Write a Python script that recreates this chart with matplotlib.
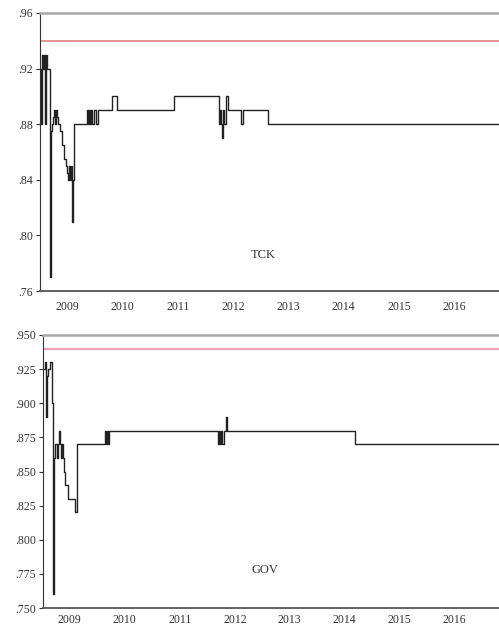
import matplotlib
matplotlib.use('Agg')
import matplotlib.pyplot as plt

# TCK series (decimal year, value) - step data
tck_dates = [2008.51, 2008.53, 2008.54, 2008.56, 2008.58, 2008.60, 2008.62, 2008.64,
             2008.69, 2008.71, 2008.73, 2008.75, 2008.76, 2008.78, 2008.80, 2008.82,
             2008.84, 2008.87, 2008.91, 2008.95, 2008.98, 2009.00, 2009.02, 2009.04,
             2009.06, 2009.07, 2009.09, 2009.11, 2009.13, 2009.36, 2009.38, 2009.40,
             2009.42, 2009.44, 2009.46, 2009.49, 2009.53, 2009.56, 2009.60, 2009.82,
             2009.91, 2010.93, 2011.75, 2011.76, 2011.78, 2011.80, 2011.82, 2011.84,
             2011.87, 2011.91, 2012.15, 2012.18, 2012.64, 2016.85]
tck_values = [.92, .88, .93, .92, .93, .88, .93, .92,
              .77, .875, .88, .885, .89, .88, .89, .885,
              .88, .875, .865, .855, .85, .845, .84, .85,
              .84, .85, .81, .84, .88, .89, .88, .89,
              .88, .89, .88, .89, .88, .89, .89, .90,
              .89, .90, .88, .89, .88, .87, .89, .88,
              .90, .89, .88, .89, .88, .88]

# GOV series
gov_dates = [2008.51, 2008.55, 2008.56, 2008.58, 2008.60, 2008.64, 2008.67, 2008.69,
             2008.72, 2008.73, 2008.76, 2008.78, 2008.80, 2008.82, 2008.84, 2008.86,
             2008.87, 2008.89, 2008.91, 2008.96, 2009.06, 2009.09, 2009.13, 2009.64,
             2009.66, 2009.67, 2009.69, 2009.71, 2011.69, 2011.71, 2011.73, 2011.75,
             2011.76, 2011.80, 2011.84, 2011.85, 2014.18, 2016.85]
gov_values = [.925, .93, .89, .92, .925, .93, .90, .76,
              .86, .87, .86, .87, .88, .87, .86, .87,
              .86, .85, .84, .83, .83, .82, .87, .88,
              .87, .88, .87, .88, .87, .88, .87, .88,
              .87, .88, .89, .88, .87, .87]

target = 0.94
years = [2009, 2010, 2011, 2012, 2013, 2014, 2015, 2016]

tck_ticks = [.76, .80, .84, .88, .92, .96]
tck_labels = ['.76', '.80', '.84', '.88', '.92', '.96']
gov_ticks = [.750, .775, .800, .825, .850, .875, .900, .925, .950]
gov_labels = ['.750', '.775', '.800', '.825', '.850', '.875', '.900', '.925', '.950']

plt.rcParams['font.family'] = ['Liberation Serif', 'DejaVu Serif']

fig = plt.figure(figsize=(4.99, 6.28), dpi=100)
ax1 = fig.add_axes([0.080, 0.5366, 0.925, 0.4427])
ax2 = fig.add_axes([0.086, 0.0318, 0.919, 0.4348])


def style_axis(ax, ticks, labels, ylim, xpad):
    ax.set_xlim(2008.51, 2016.85)
    ax.set_ylim(*ylim)
    ax.set_yticks(ticks)
    ax.set_yticklabels(labels)
    ax.set_xticks(years)
    ax.set_xticklabels([str(y) for y in years])
    ax.tick_params(axis='y', direction='out', length=3, width=0.8,
                   labelsize=8.5, pad=2, colors='#333333')
    ax.tick_params(axis='x', direction='out', length=0, labelsize=8.5,
                   pad=xpad, colors='#333333')
    ax.spines['right'].set_visible(False)
    ax.spines['top'].set_color('#a8a8a8')
    ax.spines['top'].set_linewidth(1.8)
    ax.spines['left'].set_color('#333333')
    ax.spines['bottom'].set_color('#555555')
    ax.spines['bottom'].set_linewidth(1.3)


ax1.plot(tck_dates, tck_values, drawstyle='steps-post', color='#222222', lw=1.0)
ax1.axhline(target, color='#e88a8a', lw=1.3)
style_axis(ax1, tck_ticks, tck_labels, (0.76, 0.96), 7)
ax1.text(2012.55, 0.786, 'TCK', fontsize=9, ha='center', va='center', color='#333333')

ax2.plot(gov_dates, gov_values, drawstyle='steps-post', color='#222222', lw=1.0)
ax2.axhline(target, color='#f0a0b4', lw=1.6)
style_axis(ax2, gov_ticks, gov_labels, (0.75, 0.95), 4)
ax2.text(2012.55, 0.778, 'GOV', fontsize=9, ha='center', va='center', color='#333333')

fig.savefig('out.png', dpi=100, facecolor='white')
plt.close(fig)
